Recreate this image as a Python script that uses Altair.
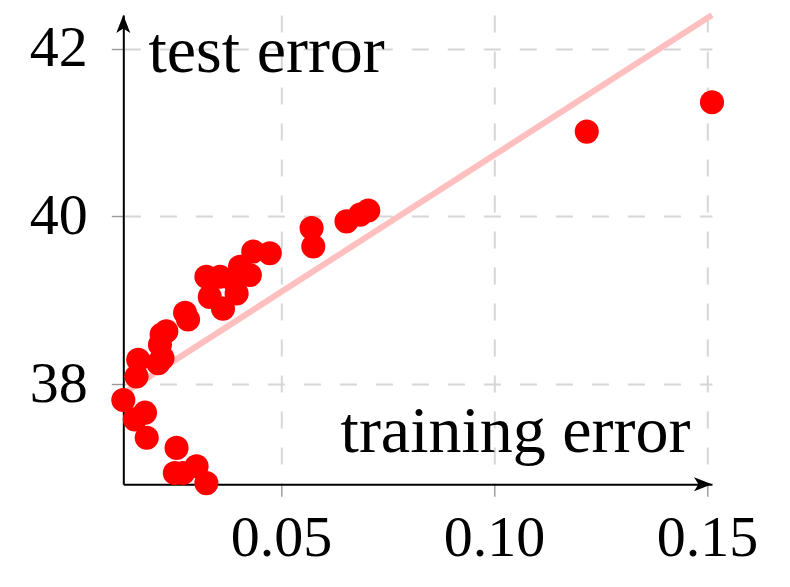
import altair as alt
import pandas as pd

# training error vs test error
train_err = [0.0130, 0.0161, 0.0165, 0.0181, 0.0157, 0.0185, 0.0212, 0.0222,
             0.0216, 0.0220, 0.0231, 0.0275, 0.0282, 0.0255, 0.0251, 0.0270,
             0.0302, 0.0325, 0.0325, 0.0333, 0.0364, 0.0357, 0.0388, 0.0396,
             0.0404, 0.0427, 0.0435, 0.0474, 0.0572, 0.0576, 0.0654, 0.0686,
             0.0705, 0.1218, 0.1512]
test_err = [37.81, 38.09, 38.29, 37.66, 37.58, 37.36, 38.25, 38.31,
            38.47, 38.59, 38.63, 38.85, 38.77, 37.24, 36.94, 36.94,
            37.02, 36.82, 39.28, 39.04, 38.90, 39.28, 39.24, 39.08,
            39.40, 39.30, 39.58, 39.56, 39.86, 39.64, 39.94, 40.02,
            40.07, 41.01, 41.36]

# trend line end points
fit_x = [0.0130, 0.1512]
fit_y = [37.89, 42.40]

# axis limits and ticks
x_lim = [0.0130, 0.1512]
y_lim = [36.806, 42.40]
x_ticks = [0.05, 0.10, 0.15]
y_ticks = [38, 40, 42]

pts = pd.DataFrame({"train": train_err, "test": test_err})
fit = pd.DataFrame({"train": fit_x, "test": fit_y})
x_arrow = pd.DataFrame({"train": [x_lim[1]], "test": [y_lim[0]]})
y_arrow = pd.DataFrame({"train": [x_lim[0]], "test": [y_lim[1]]})

FONT = "Liberation Serif"
W, H = 588.7, 469.3

xs = alt.Scale(domain=x_lim, nice=False, zero=False)
ys = alt.Scale(domain=y_lim, nice=False, zero=False)

common_axis = dict(
    grid=True, gridColor="#d6d6d6", gridDash=[17, 19], gridWidth=2,
    domainColor="black", domainWidth=2,
    tickColor="#9a9a9a", tickWidth=1.4, tickSize=12,
    labelFont=FONT, labelFontSize=58, labelColor="black",
    labelOverlap=False, labelFlush=False, labelBound=False,
    titleFont=FONT, titleFontSize=66, titleFontWeight="normal",
    titleColor="black", titleAngle=0, titleBaseline="alphabetic",
)

x_axis = alt.Axis(values=x_ticks, format=".2f", title="training error",
                  labelPadding=13, titleAlign="right",
                  titleX=566.7, titleY=-32.3, **common_axis)
y_axis = alt.Axis(values=y_ticks, format="d", title="test error",
                  labelPadding=24, titleAlign="left",
                  titleX=24.7, titleY=57, **common_axis)

X = alt.X("train:Q", scale=xs, axis=x_axis)
Y = alt.Y("test:Q", scale=ys, axis=y_axis)

line = alt.Chart(fit).mark_line(color="#ffbfbf", strokeWidth=6, clip=False).encode(x=X, y=Y)
dots = alt.Chart(pts).mark_circle(color="#ff0000", size=580, opacity=1).encode(x=X, y=Y)
arr_x = alt.Chart(x_arrow).mark_point(
    shape="M0,0L-1.8,-0.7L-1.35,0L-1.8,0.7Z", filled=True, color="black",
    size=400, opacity=1, strokeWidth=0).encode(x=X, y=Y)
arr_y = alt.Chart(y_arrow).mark_point(
    shape="M0,0L0.7,1.8L0,1.35L-0.7,1.8Z", filled=True, color="black",
    size=400, opacity=1, strokeWidth=0).encode(x=X, y=Y)

chart = alt.layer(line, dots, arr_x, arr_y).properties(
    width=W, height=H,
    autosize=alt.AutoSizeParams(type="none"),
    padding={"left": 115.3, "top": 7, "right": 60, "bottom": 100},
).configure_view(stroke=None)

chart.save("out.html", embed_options={"renderer": "svg", "actions": False})
